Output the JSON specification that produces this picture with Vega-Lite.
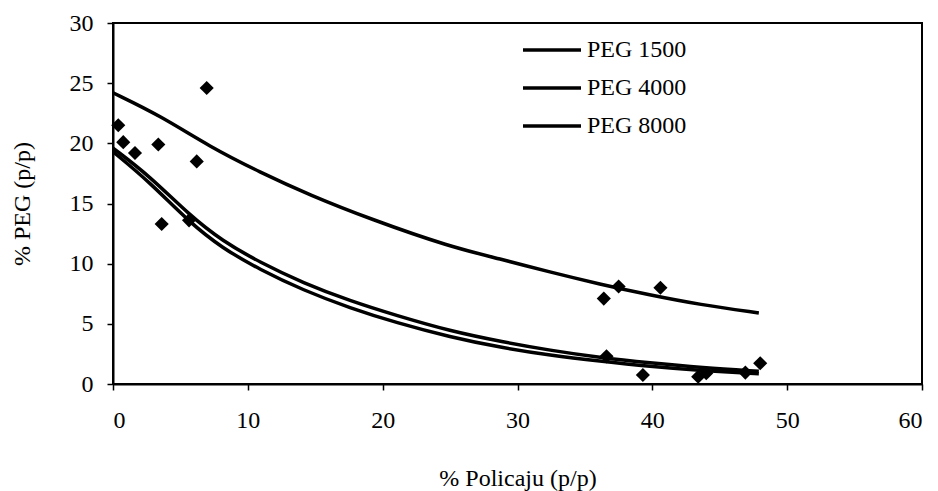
{
  "$schema": "https://vega.github.io/schema/vega-lite/v6.json",
  "width": 809,
  "height": 361,
  "autosize": "none",
  "padding": {"left": 113, "top": 23, "right": 16, "bottom": 107},
  "background": "white",
  "config": {
    "view": {"stroke": "black", "strokeWidth": 2},
    "font": "Liberation Serif",
    "axis": {
      "grid": false,
      "domainColor": "black",
      "domainWidth": 2,
      "tickColor": "black",
      "tickWidth": 1.5,
      "tickSize": 6,
      "labelFont": "Liberation Serif",
      "labelFontSize": 24,
      "labelColor": "black",
      "titleFont": "Liberation Serif",
      "titleFontSize": 24,
      "titleFontWeight": "normal",
      "titleColor": "black"
    }
  },
  "datasets": {
    "curves": [
      {"serie": "PEG 8000", "x": 0, "y": 24.2},
      {"serie": "PEG 8000", "x": 3.5, "y": 22.3},
      {"serie": "PEG 8000", "x": 7.2, "y": 19.7},
      {"serie": "PEG 8000", "x": 10.9, "y": 17.6},
      {"serie": "PEG 8000", "x": 14.6, "y": 15.7},
      {"serie": "PEG 8000", "x": 19.1, "y": 13.7},
      {"serie": "PEG 8000", "x": 25.0, "y": 11.4},
      {"serie": "PEG 8000", "x": 28.7, "y": 10.4},
      {"serie": "PEG 8000", "x": 32.4, "y": 9.3},
      {"serie": "PEG 8000", "x": 36.1, "y": 8.3},
      {"serie": "PEG 8000", "x": 39.8, "y": 7.4},
      {"serie": "PEG 8000", "x": 43.5, "y": 6.6},
      {"serie": "PEG 8000", "x": 47.9, "y": 5.9},
      {"serie": "PEG 4000", "x": 0, "y": 19.6},
      {"serie": "PEG 4000", "x": 2.7, "y": 17.3},
      {"serie": "PEG 4000", "x": 5.7, "y": 14.0},
      {"serie": "PEG 4000", "x": 8.1, "y": 11.9},
      {"serie": "PEG 4000", "x": 10.9, "y": 10.1},
      {"serie": "PEG 4000", "x": 14.1, "y": 8.4},
      {"serie": "PEG 4000", "x": 17.6, "y": 6.9},
      {"serie": "PEG 4000", "x": 21.0, "y": 5.7},
      {"serie": "PEG 4000", "x": 25.0, "y": 4.4},
      {"serie": "PEG 4000", "x": 28.9, "y": 3.5},
      {"serie": "PEG 4000", "x": 32.4, "y": 2.8},
      {"serie": "PEG 4000", "x": 36.1, "y": 2.2},
      {"serie": "PEG 4000", "x": 39.8, "y": 1.75},
      {"serie": "PEG 4000", "x": 43.7, "y": 1.35},
      {"serie": "PEG 4000", "x": 47.9, "y": 1.05},
      {"serie": "PEG 1500", "x": 0, "y": 19.3},
      {"serie": "PEG 1500", "x": 2.7, "y": 16.8},
      {"serie": "PEG 1500", "x": 5.7, "y": 13.4},
      {"serie": "PEG 1500", "x": 8.1, "y": 11.3},
      {"serie": "PEG 1500", "x": 10.9, "y": 9.5},
      {"serie": "PEG 1500", "x": 14.1, "y": 7.8},
      {"serie": "PEG 1500", "x": 17.6, "y": 6.3},
      {"serie": "PEG 1500", "x": 21.0, "y": 5.1},
      {"serie": "PEG 1500", "x": 25.0, "y": 3.9},
      {"serie": "PEG 1500", "x": 28.9, "y": 3.0},
      {"serie": "PEG 1500", "x": 32.4, "y": 2.4},
      {"serie": "PEG 1500", "x": 36.1, "y": 1.9},
      {"serie": "PEG 1500", "x": 39.8, "y": 1.45},
      {"serie": "PEG 1500", "x": 43.7, "y": 1.1},
      {"serie": "PEG 1500", "x": 47.9, "y": 0.85}
    ],
    "points": [
      {"x": 0.39, "y": 21.5},
      {"x": 0.76, "y": 20.1},
      {"x": 1.63, "y": 19.2},
      {"x": 3.36, "y": 19.9},
      {"x": 3.61, "y": 13.3},
      {"x": 5.64, "y": 13.6},
      {"x": 6.21, "y": 18.5},
      {"x": 6.95, "y": 24.6},
      {"x": 36.4, "y": 7.1},
      {"x": 37.5, "y": 8.1},
      {"x": 40.6, "y": 8.0},
      {"x": 36.6, "y": 2.3},
      {"x": 39.3, "y": 0.75},
      {"x": 43.4, "y": 0.6},
      {"x": 44.0, "y": 0.9},
      {"x": 46.9, "y": 0.95},
      {"x": 48.0, "y": 1.72}
    ]
  },
  "layer": [
    {
      "data": {"name": "curves"},
      "mark": {"type": "line", "strokeWidth": 3.5, "interpolate": "basis"},
      "encoding": {
        "x": {
          "field": "x", "type": "quantitative",
          "scale": {"domain": [0, 60], "nice": false},
          "axis": {"values": [0, 10, 20, 30, 40, 50, 60], "title": "% Policaju (p/p)", "labelPadding": 18, "titlePadding": 34}
        },
        "y": {
          "field": "y", "type": "quantitative",
          "scale": {"domain": [0, 30], "nice": false},
          "axis": {"values": [0, 5, 10, 15, 20, 25, 30], "title": "% PEG (p/p)", "labelPadding": 14, "titlePadding": 35}
        },
        "color": {
          "field": "serie", "type": "nominal",
          "scale": {"domain": ["PEG 1500", "PEG 4000", "PEG 8000"], "range": ["black", "black", "black"]},
          "legend": {
            "title": null,
            "orient": "none",
            "legendX": 408,
            "legendY": 8,
            "symbolType": "stroke",
            "symbolSize": 3364,
            "symbolStrokeWidth": 3.5,
            "symbolStrokeColor": "black",
            "labelFont": "Liberation Serif",
            "labelFontSize": 24,
            "labelColor": "black",
            "labelOffset": 4,
            "clipHeight": 38,
            "rowPadding": 0
          }
        }
      }
    },
    {
      "data": {"name": "points"},
      "mark": {"type": "point", "shape": "diamond", "filled": true, "color": "black", "size": 200, "opacity": 1},
      "encoding": {
        "x": {"field": "x", "type": "quantitative"},
        "y": {"field": "y", "type": "quantitative"}
      }
    }
  ]
}
